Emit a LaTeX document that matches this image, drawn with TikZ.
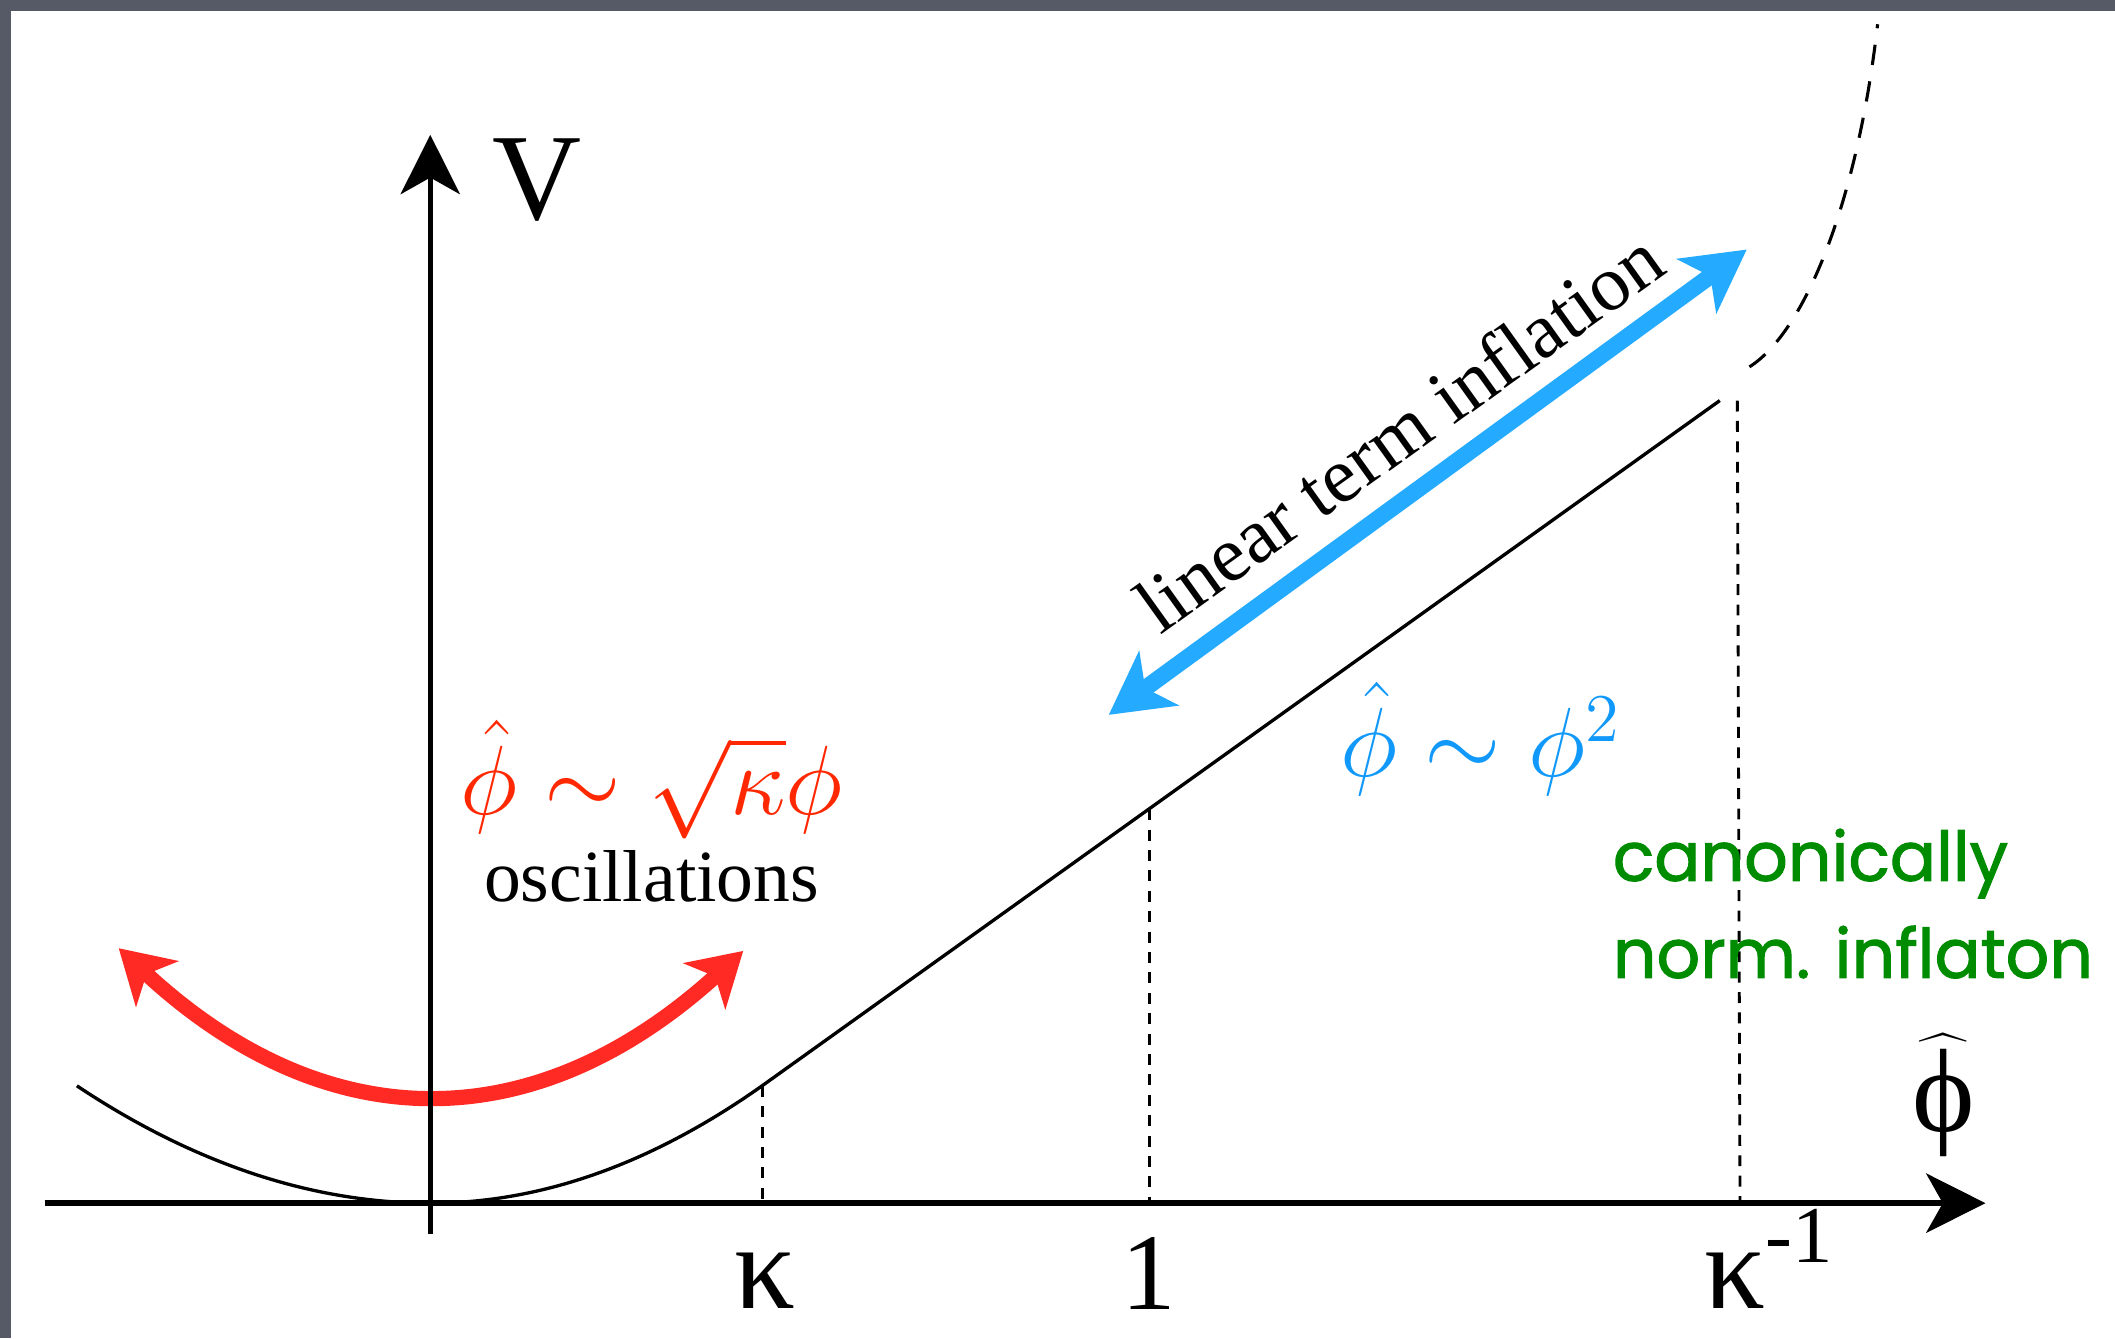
\documentclass[tikz,border=0pt]{standalone}
\usepackage[no-math]{fontspec}
\setmainfont{Liberation Serif}
\newfontfamily\greenfont[FakeBold=1.5]{Poppins}
\usetikzlibrary{arrows.meta}
\definecolor{slate}{RGB}{86,89,102}
\definecolor{redarr}{RGB}{255,42,36}
\definecolor{redtxt}{RGB}{255,40,0}
\definecolor{bluearr}{RGB}{36,170,255}
\definecolor{bluetxt}{RGB}{16,152,250}
\definecolor{greentxt}{RGB}{0,140,0}
\tikzset{
  axisline/.style={line width=1.25pt, -{Stealth[length=12.5pt,width=12.5pt,inset=3.5pt]}},
  potcurve/.style={line width=0.7pt},
  guide/.style={line width=0.6pt, dash pattern=on 2.3pt off 2pt},
  extcurve/.style={line width=0.65pt, dash pattern=on 4.3pt off 3.5pt},
  redarrow/.style={line width=3.2pt, draw=redarr, {Stealth[length=11pt,width=13pt,inset=3pt]}-{Stealth[length=11pt,width=13pt,inset=3pt]}},
  bluearrow/.style={line width=3.5pt, draw=bluearr, {Stealth[length=13pt,width=14pt,inset=3.5pt]}-{Stealth[length=13pt,width=14pt,inset=3.5pt]}},
  ticklabel/.style={anchor=base, font=\fontsize{23}{25}\selectfont, inner sep=0pt},
  greenlabel/.style={text=greentxt, anchor=base west, inner sep=0pt, font=\greenfont\fontsize{14.4}{17}\selectfont}
}
\begin{document}
\begin{tikzpicture}[x=0.01cm,y=-0.01cm]
\useasboundingbox (0,0) rectangle (1568,992);
\fill[slate] (0,0) rectangle (1568,992);
\fill[white] (8.5,8.5) rectangle (1568,992);

% key points
\coordinate (o) at (319,892);
\coordinate (xl) at (33,892);
\coordinate (xr) at (1472,892);
\coordinate (yb) at (319,915);
\coordinate (yt) at (319,100);
\coordinate (cl) at (57,805);
\coordinate (pk) at (565,805);
\coordinate (pkb) at (565,892);
\coordinate (p1) at (852,600);
\coordinate (p1b) at (852,892);
\coordinate (pe) at (1275,297);
\coordinate (pki) at (1288,297);
\coordinate (pkib) at (1290,892);
\coordinate (es) at (1297,272);
\coordinate (ee) at (1392,18);
\coordinate (rl) at (88,703);
\coordinate (rr) at (551,705);
\coordinate (bl) at (822,530);
\coordinate (br) at (1295,185);

% red oscillation arrow
\draw[redarrow] (rl) .. controls (241,845) and (396,846) .. (rr);

% axes
\draw[axisline] (xl) -- (xr);
\draw[axisline, line width=1pt] (yb) -- (yt);

% potential
\draw[potcurve] (cl) .. controls (144,863) and (232,892) .. (o)
  .. controls (401,892) and (483,863) .. (pk) -- (pe);
\draw[extcurve] (es) .. controls (1338,246) and (1377,150) .. (ee);

% guides
\draw[guide] (pk) -- (pkb);
\draw[guide] (p1) -- (p1b);
\draw[guide] (pki) -- (pkib);

% blue arrow
\draw[bluearrow] (bl) -- (br);

% labels
\node[anchor=base, inner sep=0pt, font=\fontsize{26}{28}\selectfont] (V) at (398,163) {V};
\node[inner sep=0pt, font=\fontsize{25}{27}\selectfont] (phlab) at (1441,812) {$\widehat{\hbox{ϕ}}$};
\node[ticklabel, font=\fontsize{25.5}{27}\selectfont] (tk) at (567,970) {κ};
\node[ticklabel] (t1) at (852,971) {1};
\node[ticklabel] (tki) at (1311,970) {{\fontsize{25.5}{27}\selectfont κ}\raisebox{0.42em}{\fontsize{17}{17}\selectfont -1}};

\node[rotate=35.6, inner sep=0pt, font=\fontsize{16.5}{18}\selectfont] (lti) at (1037,320) {linear term inflation};
\node[text=redtxt, inner sep=0pt, font=\fontsize{20}{22}\selectfont] (redf) at (483,578) {$\hat\phi\sim\sqrt{\kappa}\phi$};
\node[anchor=base, inner sep=0pt, font=\fontsize{15.5}{17}\selectfont] (osc) at (483,668) {oscillations};
\node[text=bluetxt, inner sep=0pt, font=\fontsize{20}{22}\selectfont] (bluef) at (1098,548) {$\hat\phi\sim\phi^2$};
\node[greenlabel] (green1) at (1195,653) {canonically};
\node[greenlabel] (green2) at (1195,725) {norm. inflaton};
\end{tikzpicture}
\end{document}
